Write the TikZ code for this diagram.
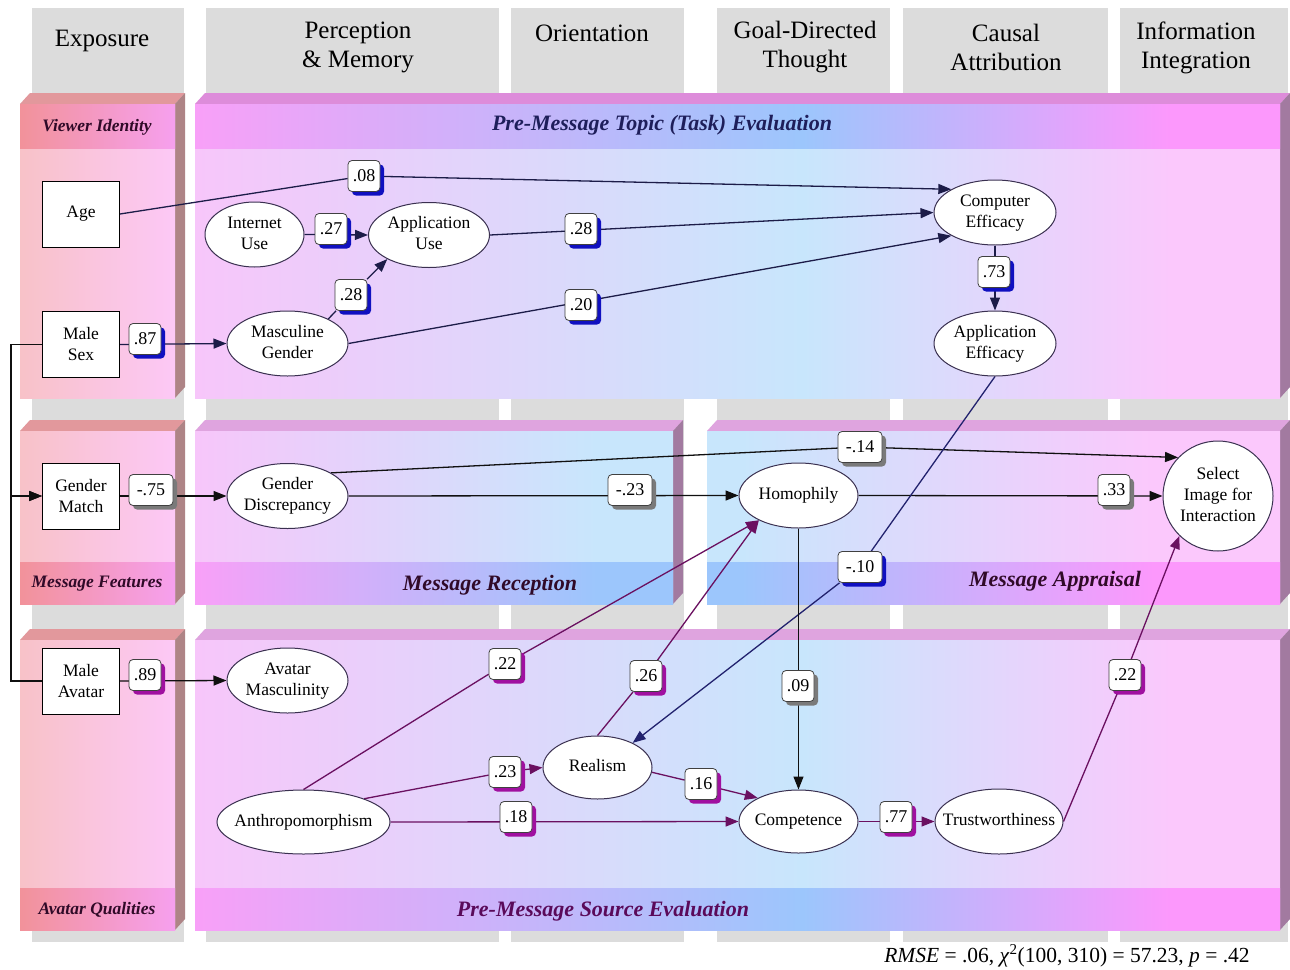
\documentclass[tikz,border=0pt]{standalone}
\usepackage{fontspec}
\setmainfont{Liberation Serif}
\usetikzlibrary{arrows.meta,shapes.geometric,shadows,calc}

\definecolor{colgray}{HTML}{DCDCDC}
\definecolor{bodyPk}{HTML}{F7C6FA}
\definecolor{bodyBl}{HTML}{C8E6FC}
\definecolor{bodyPkR}{HTML}{FBC8FC}
\definecolor{stripPk}{HTML}{F8A0F8}
\definecolor{stripBl}{HTML}{9CC6FC}
\definecolor{stripPkR}{HTML}{FC98FC}
\definecolor{lbL}{HTML}{F8C2C8}
\definecolor{lbR}{HTML}{FCC8F6}
\definecolor{lsL}{HTML}{F2929A}
\definecolor{lsR}{HTML}{F6A0EE}
\definecolor{topMain}{HTML}{DFA4DF}
\definecolor{topMainA}{HTML}{DD8CDA}
\definecolor{sideMain}{HTML}{A27AA0}
\definecolor{topLeft}{HTML}{E2989C}
\definecolor{sideLeft}{HTML}{AE8486}
\definecolor{navyline}{HTML}{1C1C48}
\definecolor{blackline}{HTML}{101010}
\definecolor{blueline}{HTML}{22226E}
\definecolor{purpline}{HTML}{6A1060}
\definecolor{ellborder}{HTML}{3A3050}
\definecolor{shblue}{HTML}{1010C0}
\definecolor{shgray}{HTML}{7A7A7A}
\definecolor{shmag}{HTML}{A010A0}
\definecolor{labnavy}{HTML}{1E1E5A}
\definecolor{labdark}{HTML}{300A28}
\definecolor{labpurp}{HTML}{5A0A5A}

\pgfdeclarehorizontalshading{mainbody}{100bp}{color(0bp)=(bodyPk); color(25bp)=(bodyPk); color(53bp)=(bodyBl); color(70bp)=(bodyPkR); color(100bp)=(bodyPkR)}
\pgfdeclarehorizontalshading{mainstrip}{100bp}{color(0bp)=(stripPk); color(25bp)=(stripPk); color(53bp)=(stripBl); color(70bp)=(stripPkR); color(100bp)=(stripPkR)}
\pgfdeclarehorizontalshading{recbody}{100bp}{color(0bp)=(bodyPk); color(25bp)=(bodyPk); color(67bp)=(bodyBl); color(100bp)=(bodyBl)}
\pgfdeclarehorizontalshading{recstrip}{100bp}{color(0bp)=(stripPk); color(25bp)=(stripPk); color(67bp)=(stripBl); color(100bp)=(stripBl)}
\pgfdeclarehorizontalshading{appbody}{100bp}{color(0bp)=(bodyBl); color(25bp)=(bodyBl); color(28bp)=(bodyBl); color(64bp)=(bodyPkR); color(100bp)=(bodyPkR)}
\pgfdeclarehorizontalshading{appstrip}{100bp}{color(0bp)=(stripBl); color(25bp)=(stripBl); color(28bp)=(stripBl); color(64bp)=(stripPkR); color(100bp)=(stripPkR)}
\pgfdeclarehorizontalshading{leftbody}{100bp}{color(0bp)=(lbL); color(25bp)=(lbL); color(75bp)=(lbR); color(100bp)=(lbR)}
\pgfdeclarehorizontalshading{leftstrip}{100bp}{color(0bp)=(lsL); color(25bp)=(lsL); color(75bp)=(lsR); color(100bp)=(lsR)}

\pgfdeclarelayer{bg}
\pgfdeclarelayer{edges}
\pgfsetlayers{bg,edges,main}

\newcommand{\myBandBox}[7]{%
  \fill[#6] (#1,#2) -- (#1+10,#2-11) -- (#3+10,#2-11) -- (#3,#2) -- cycle;
  \fill[#7] (#3,#2) -- (#3+10,#2-11) -- (#3+10,#4-11) -- (#3,#4) -- cycle;
  \shade[shading=#5] (#1,#2) rectangle (#3,#4);}
\newcommand{\myNodeFont}{\fontsize{17.5}{21}\selectfont}
\newcommand{\myCoefFont}{\fontsize{18}{20}\selectfont}
\newcommand{\myHdrFont}{\fontsize{25}{29}\selectfont}
\newcommand{\myCtext}[1]{\makebox[0pt]{\begin{tabular}{@{}c@{}}#1\end{tabular}}}

\tikzset{
  rbox/.style={draw=black, fill=white, line width=1pt, minimum width=77pt, minimum height=66pt, inner sep=0pt, align=center, font=\myNodeFont},
  ell/.style={ellipse, draw=ellborder, fill=white, line width=1pt, minimum width=121pt, minimum height=65pt, inner sep=0pt, font=\myNodeFont},
  coefbase/.style={rounded corners=4pt, draw=black!75, fill=white, line width=0.8pt, minimum width=32pt, minimum height=31pt, inner sep=1pt, font=\myCoefFont},
  coefB/.style={coefbase, drop shadow={shadow xshift=4pt, shadow yshift=-4pt, fill=shblue, opacity=1}},
  coefG/.style={coefbase, drop shadow={shadow xshift=4pt, shadow yshift=-4pt, fill=shgray, opacity=1}},
  coefM/.style={coefbase, drop shadow={shadow xshift=4pt, shadow yshift=-4pt, fill=shmag, opacity=1}},
  widebox/.style={minimum width=44pt},
  hdr/.style={font=\myHdrFont, align=center, inner sep=0pt},
  blab/.style={font=\fontsize{22}{26}\selectfont\bfseries\itshape, inner sep=0pt},
  slab/.style={font=\fontsize{17.5}{20}\selectfont\bfseries\itshape, inner sep=0pt, text=labdark},
  arr/.style={-{Triangle[length=13pt,width=10pt]}},
  nvl/.style={draw=navyline, line width=1.3pt},
  bkl/.style={draw=blackline, line width=1.3pt},
  bul/.style={draw=blueline, line width=1.3pt},
  ppl/.style={draw=purpline, line width=1.3pt},
}

\begin{document}
\begin{tikzpicture}[x=1pt,y=-1pt]
\useasboundingbox (0,0) rectangle (1290,969);
\begin{pgfonlayer}{bg}
  \fill[white] (0,0) rectangle (1290,969);
  \foreach \a/\b in {32/184, 206/499, 511/684, 717/890, 903/1108, 1120/1288}
    \fill[colgray] (\a,8) rectangle (\b,942);
  % band 1
  \myBandBox{20}{104}{175}{398}{leftbody}{topLeft}{sideLeft}
  \myBandBox{195}{104}{1280}{398}{mainbody}{topMainA}{sideMain}
  \shade[shading=leftstrip] (20,104) rectangle (175,148);
  \shade[shading=mainstrip] (195,104) rectangle (1280,148);
  % band 2
  \myBandBox{20}{431}{175}{604}{leftbody}{topLeft}{sideLeft}
  \myBandBox{195}{431}{673}{604}{recbody}{topMain}{sideMain}
  \myBandBox{707}{431}{1280}{604}{appbody}{topMain}{sideMain}
  \shade[shading=leftstrip] (20,562) rectangle (175,604);
  \shade[shading=recstrip] (195,562) rectangle (673,604);
  \shade[shading=appstrip] (707,562) rectangle (1280,604);
  % band 3
  \myBandBox{20}{640}{175}{930}{leftbody}{topLeft}{sideLeft}
  \myBandBox{195}{640}{1280}{930}{mainbody}{topMain}{sideMain}
  \shade[shading=leftstrip] (20,888) rectangle (175,930);
  \shade[shading=mainstrip] (195,888) rectangle (1280,930);
\end{pgfonlayer}

% headers
\node[hdr] (h1) at (102,41) {Exposure};
\node[hdr] (h2) at (358,47.5) {Perception\\\& Memory};
\node[hdr] (h3) at (592,33) {Orientation};
\node[hdr] (h4) at (805,47.5) {Goal-Directed\\Thought};
\node[hdr] (h5) at (1006,47.5) {Causal\\Attribution};
\node[hdr] (h6) at (1196,47.5) {Information\\Integration};

% band labels
\node[slab] (t1) at (97,127) {Viewer Identity};
\node[blab, text=labnavy] (t2) at (662,125) {Pre-Message Topic (Task) Evaluation};
\node[slab] (t3) at (97,584) {Message Features};
\node[blab, text=labdark] (t4) at (490,585) {Message Reception};
\node[blab, text=labdark] (t5) at (1055,581) {Message Appraisal};
\node[slab] (t6) at (97,910) {Avatar Qualities};
\node[blab, text=labpurp] (t7) at (603,911) {Pre-Message Source Evaluation};

% observed variables
\node[rbox] (age) at (81,214) {Age};
\node[rbox] (ms) at (81,344.5) {Male\\Sex};
\node[rbox] (gm) at (81,496) {Gender\\Match};
\node[rbox] (ma) at (81,681) {Male\\Avatar};

% latent variables
\node[ell, minimum width=99pt] (iu) at (254.5,234.5) {\myCtext{Internet\\Use}};
\node[ell] (au) at (429,235) {\myCtext{Application\\Use}};
\node[ell] (mg) at (287.5,343.5) {\myCtext{Masculine\\Gender}};
\node[ell, minimum width=122pt] (ce) at (995,212.5) {\myCtext{Computer\\Efficacy}};
\node[ell, minimum width=122pt] (ae) at (995,343.5) {\myCtext{Application\\Efficacy}};
\node[ell] (gd) at (287.5,496) {\myCtext{Gender\\Discrepancy}};
\node[ell, minimum width=119pt] (hom) at (798.5,495.5) {\myCtext{Homophily}};
\node[circle, draw=ellborder, fill=white, line width=1pt, minimum size=110pt, inner sep=0pt, font=\myNodeFont] (si) at (1218,496) {\myCtext{Select\\Image for\\Interaction}};
\node[ell] (am) at (287.5,680.5) {\myCtext{Avatar\\Masculinity}};
\node[ell, minimum width=173pt, minimum height=64pt] (an) at (303.5,822) {\myCtext{Anthropomorphism}};
\node[ell, minimum width=109pt, minimum height=63pt] (re) at (597.5,767.5) {\myCtext{Realism}};
\node[ell, minimum width=119pt, minimum height=63pt] (co) at (798.5,821.5) {\myCtext{Competence}};
\node[ell, minimum width=128pt] (tw) at (999,821.5) {\myCtext{Trustworthiness}};

% coefficients
\node[coefB] (l08) at (364,176) {.08};
\node[coefB] (l27) at (331,229) {.27};
\node[coefB] (l28a) at (351,295) {.28};
\node[coefB] (l28b) at (581,229) {.28};
\node[coefB] (l20) at (581,305) {.20};
\node[coefB] (l73) at (994,272) {.73};
\node[coefB] (l87) at (145,339) {.87};
\node[coefG, widebox] (l75) at (151,490) {-.75};
\node[coefG, widebox] (l14) at (860,447) {-.14};
\node[coefG, widebox] (l23) at (630,490) {-.23};
\node[coefG] (l33) at (1114,490) {.33};
\node[coefB, widebox] (l10) at (860,567) {-.10};
\node[coefM] (l89) at (145,675) {.89};
\node[coefM] (l22a) at (505,664) {.22};
\node[coefM] (l26) at (646,676) {.26};
\node[coefG] (l09) at (798,686) {.09};
\node[coefM] (l23b) at (505,772) {.23};
\node[coefM] (l16) at (701,784) {.16};
\node[coefM] (l18) at (516,817) {.18};
\node[coefM] (l77) at (896,817) {.77};
\node[coefM] (l22b) at (1125,675) {.22};

\coordinate (brk) at (11,496);

% footnote
\node[font=\fontsize{21.5}{24}\selectfont, inner sep=0pt] (fn) at (1067,956) {\textit{RMSE} = .06, \textit{χ}\textsuperscript{2}(100, 310) = 57.23, \textit{p} = .42};

\begin{pgfonlayer}{edges}
  \draw[nvl] (age.east) -- (l08);
  \draw[nvl, arr] (l08) -- (ce.152);
  \draw[nvl, arr] (iu.east) -- (au.west);
  \draw[nvl] (mg.31) -- (l28a);
  \draw[nvl, arr] (l28a) -- (au.210);
  \draw[nvl, arr] (au.east) -- (ce.west);
  \draw[nvl, arr] (mg.east) -- (ce.208);
  \draw[nvl, arr] (ce.south) -- (ae.north);
  \draw[nvl, arr] (ms.east) -- (mg.west);
  \draw[bkl, arr] (ms.west) -| (brk) -- (gm.west);
  \draw[bkl, arr] (ma.west) -| (brk) -- (gm.west);
  \draw[bkl, arr] (gm.east) -- (gd.west);
  \draw[bkl] (gd.28) -- (l14);
  \draw[bkl, arr] (l14) -- (si.136);
  \draw[bkl, arr] (gd.east) -- (hom.west);
  \draw[bkl, arr] (hom.east) -- (si.west);
  \draw[bul] (ae.south) -- (l10);
  \draw[bul, arr] (l10) -- (re.35);
  \draw[bkl, arr] (ma.east) -- (am.west);
  \draw[ppl] (an.north) -- (l22a);
  \draw[ppl, arr] (l22a) -- (hom.212);
  \draw[ppl] (re.north) -- (l26);
  \draw[ppl, arr] (l26) -- (hom.212);
  \draw[bkl, arr] (hom.south) -- (co.north);
  \draw[ppl] (an.21) -- (l23b);
  \draw[ppl, arr] (l23b) -- (re.west);
  \draw[ppl] (re.355) -- (l16);
  \draw[ppl, arr] (l16) -- (co.150);
  \draw[ppl, arr] (an.east) -- (co.west);
  \draw[ppl, arr] (co.east) -- (tw.west);
  \draw[ppl] (tw.east) -- (l22b);
  \draw[ppl, arr] (l22b) -- (si.226);
\end{pgfonlayer}
\end{tikzpicture}
\end{document}
